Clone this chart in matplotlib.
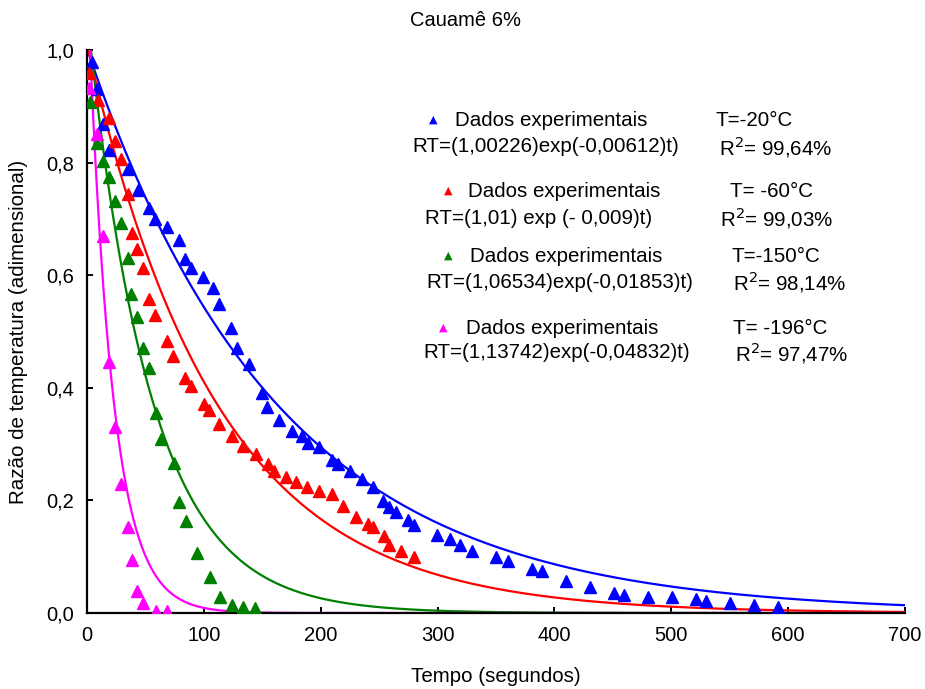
import numpy as np
import matplotlib
matplotlib.use("Agg")
import matplotlib.pyplot as plt
from matplotlib.ticker import FuncFormatter

plt.rcParams['font.family'] = ['Liberation Sans', 'DejaVu Sans']

# ---- data ----
t_m20 = [4.0, 8.8, 13.4, 18.8, 35.3, 43.4, 53.3, 58.4, 68.7, 78.7, 84.1, 89.3, 99.5, 108.1,
         113.2, 123.6, 128.6, 138.9, 149.5, 154.3, 164.6, 175.2, 183.7, 188.9, 198.8, 209.4,
         215.0, 225.1, 235.1, 245.0, 253.6, 258.7, 264.4, 274.9, 280.1, 299.9, 310.6, 319.2,
         329.2, 350.0, 360.0, 380.8, 389.4, 409.9, 430.4, 451.0, 459.8, 480.1, 500.9, 521.4,
         529.7, 550.2, 571.0, 591.6]
v_m20 = [0.979, 0.930, 0.869, 0.822, 0.788, 0.751, 0.720, 0.699, 0.685, 0.662, 0.628, 0.613,
         0.596, 0.578, 0.549, 0.506, 0.470, 0.442, 0.391, 0.366, 0.342, 0.323, 0.314, 0.302,
         0.295, 0.271, 0.264, 0.253, 0.238, 0.224, 0.199, 0.189, 0.179, 0.165, 0.156, 0.139,
         0.131, 0.121, 0.111, 0.100, 0.092, 0.078, 0.075, 0.057, 0.046, 0.036, 0.032, 0.028,
         0.028, 0.025, 0.022, 0.017, 0.014, 0.011]

t_m60 = [2.0, 9.7, 19.1, 24.2, 29.1, 34.8, 38.3, 43.0, 48.2, 53.3, 58.4, 68.7, 73.8, 84.0,
         89.4, 99.7, 104.8, 113.2, 123.8, 133.7, 144.3, 154.6, 159.7, 170.0, 178.6, 188.5,
         198.8, 209.4, 219.3, 230.2, 240.2, 245.0, 254.2, 258.7, 269.0, 279.8]
v_m60 = [0.959, 0.911, 0.880, 0.838, 0.806, 0.745, 0.675, 0.646, 0.613, 0.557, 0.529, 0.483,
         0.457, 0.418, 0.403, 0.371, 0.361, 0.335, 0.314, 0.297, 0.282, 0.264, 0.253, 0.242,
         0.232, 0.224, 0.217, 0.211, 0.190, 0.171, 0.158, 0.153, 0.136, 0.121, 0.111, 0.100]

t_m150 = [2.6, 8.8, 13.9, 19.1, 24.2, 29.4, 34.8, 37.7, 43.0, 48.2, 53.3, 58.8, 63.6, 74.2,
          79.0, 84.5, 94.1, 105.0, 113.6, 123.8, 133.7, 144.0]
v_m150 = [0.908, 0.834, 0.802, 0.774, 0.731, 0.692, 0.630, 0.567, 0.525, 0.470, 0.435, 0.356,
          0.309, 0.267, 0.197, 0.164, 0.107, 0.064, 0.029, 0.015, 0.011, 0.008]

t_m196 = [2.0, 8.8, 13.9, 19.1, 24.0, 29.4, 34.8, 38.3, 43.0, 48.2, 58.8, 68.7]
v_m196 = [0.933, 0.850, 0.670, 0.445, 0.331, 0.230, 0.153, 0.095, 0.039, 0.017, 0.004, 0.004]

# fitted model RT = A exp(-k t)
fit_A = [1.00226, 1.01, 1.06534, 1.13742]
fit_k = [0.00612, 0.009, 0.01853, 0.04832]
colors = ['#0000ff', '#ff0000', '#008000', '#ff00ff']

legend_T = ['T=-20°C', 'T= -60°C', 'T=-150°C', 'T= -196°C']
legend_eq = ['RT=(1,00226)exp(-0,00612)t)', 'RT=(1,01) exp (- 0,009)t)',
             'RT=(1,06534)exp(-0,01853)t)', 'RT=(1,13742)exp(-0,04832)t)']
legend_R2 = ['R$^2$= 99,64%', 'R$^2$= 99,03%', 'R$^2$= 98,14%', 'R$^2$= 97,47%']

x_ticks = [0, 100, 200, 300, 400, 500, 600, 700]
y_ticks = [0.0, 0.2, 0.4, 0.6, 0.8, 1.0]

# ---- figure ----
W, H = 925, 689
FS = 14.8
fig = plt.figure(figsize=(W / 100, H / 100), dpi=100)
ax = fig.add_axes([87 / W, 1 - 613 / H, (905 - 87) / W, (613 - 50) / H])

series = [(t_m20, v_m20), (t_m60, v_m60), (t_m150, v_m150), (t_m196, v_m196)]
tt = np.linspace(0, 700, 1401)
for (tx, vy), A, k, c in zip(series, fit_A, fit_k, colors):
    ax.plot(tt, A * np.exp(-k * np.array(tt)), color=c, lw=1.6, zorder=2)
    ax.plot(tx, vy, linestyle='none', marker='^', ms=8, color=c, mec=c, zorder=3)

ax.set_xlim(0, 700)
ax.set_ylim(0, 1.0)
ax.set_xticks(x_ticks)
ax.set_yticks(y_ticks)
ax.xaxis.set_major_formatter(FuncFormatter(lambda v, p: f"{v:.0f}"))
ax.yaxis.set_major_formatter(FuncFormatter(lambda v, p: f"{v:.1f}".replace('.', ',')))
for s in ['top', 'right']:
    ax.spines[s].set_visible(False)
for s in ['left', 'bottom']:
    ax.spines[s].set_linewidth(1.6)
ax.tick_params(axis='both', direction='in', length=4, width=1.4, labelsize=14.5)
ax.tick_params(axis='x', pad=9.5)
ax.tick_params(axis='y', pad=9.5)

ax.set_xlabel('Tempo (segundos)', fontsize=FS)
ax.set_ylabel('Razão de temperatura (adimensional)', fontsize=FS)
ax.xaxis.set_label_coords(0.5, (613 - 676) / 563)
ax.yaxis.set_label_coords((19 - 87) / 818, 0.5)
ax.xaxis.label.set_va('center')
ax.yaxis.label.set_va('center')
fig.text(465 / W, 1 - 20 / H, 'Cauamê 6%', ha='center', va='center', fontsize=14.5)

# legend-like annotation block (figure pixel positions)
rows = [
    (433, 455, 715, 120, 412, 719, 147),
    (448, 468, 730, 191, 425, 720, 218),
    (448, 470, 732, 256, 426, 733, 282),
    (443, 466, 733, 328, 423, 735, 353),
]
for i, (mx, dx, tx_, y1, ex, rx, y2) in enumerate(rows):
    fig.text(mx / W, 1 - y1 / H, '▲', color=colors[i], ha='center', va='center',
             fontsize=8, family='DejaVu Sans')
    fig.text(dx / W, 1 - y1 / H, 'Dados experimentais', ha='left', va='center', fontsize=FS)
    fig.text(tx_ / W, 1 - y1 / H, legend_T[i], ha='left', va='center', fontsize=FS)
    fig.text(ex / W, 1 - y2 / H, legend_eq[i], ha='left', va='center', fontsize=FS)
    fig.text(rx / W, 1 - y2 / H, legend_R2[i], ha='left', va='center', fontsize=FS)

fig.savefig('out.png', dpi=100)
